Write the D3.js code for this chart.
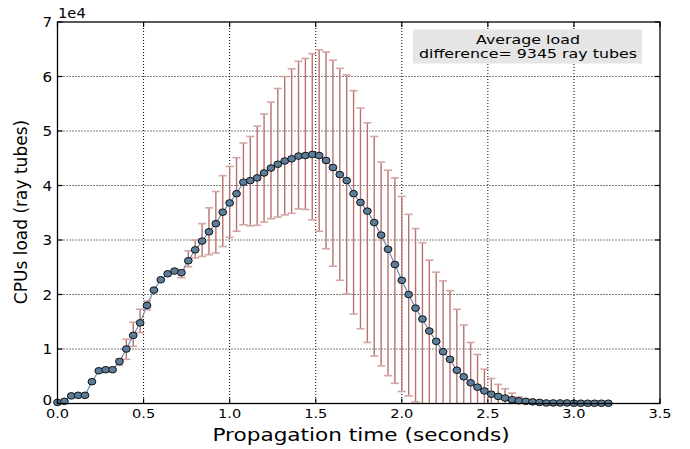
<!DOCTYPE html>
<html>
<head>
<meta charset="utf-8">
<script src="https://cdn.jsdelivr.net/npm/d3@7"></script>
<style>
  body { margin: 0; background: #fff; }
  text { font-family: "DejaVu Sans", sans-serif; }
</style>
</head>
<body>
<div id="chart"></div>
<script>
// data, in units of 1e4 ray tubes, one point every 0.04 s
const times = d3.range(81).map(i => +(i * 0.04).toFixed(2));
const load = [0.02, 0.04, 0.14, 0.15, 0.15, 0.40, 0.60, 0.62, 0.62, 0.77,
  1.00, 1.25, 1.48, 1.80, 2.08, 2.27, 2.38, 2.43, 2.40, 2.62,
  2.82, 2.98, 3.15, 3.30, 3.51, 3.68, 3.85, 4.06, 4.09, 4.14,
  4.23, 4.32, 4.39, 4.45, 4.49, 4.54, 4.55, 4.57, 4.55, 4.46,
  4.33, 4.20, 4.09, 3.85, 3.69, 3.53, 3.32, 3.09, 2.83, 2.55,
  2.26, 2.00, 1.75, 1.55, 1.33, 1.14, 0.95, 0.81, 0.61, 0.49,
  0.38, 0.30, 0.23, 0.17, 0.13, 0.10, 0.07, 0.05, 0.04, 0.03,
  0.02, 0.01, 0.01, 0.01, 0.01, 0.005, 0.005, 0.005, 0.005, 0.005, 0.005];
const upper = [null, null, null, null, null, null, null, null, null, 0.82,
  1.18, 1.49, 1.73, 1.88, null, null, null, null, 2.45, 2.80,
  3.00, 3.30, 3.59, 3.89, 4.18, 4.35, 4.51, 4.78, 4.90, 5.09,
  5.31, 5.53, 5.78, 6.00, 6.14, 6.28, 6.33, 6.42, 6.49, 6.45,
  6.30, 6.15, 6.03, 5.74, 5.42, 5.15, 4.90, 4.43, 4.28, 4.14,
  3.80, 3.47, 3.21, 2.95, 2.63, 2.41, 2.25, 2.07, 1.73, 1.44,
  1.12, 0.90, 0.63, 0.46, 0.35, 0.27, 0.19, 0.12, 0.07, 0.05,
  null, null, null, null, null, null, null, null, null, null, null];
const lower = [null, null, null, null, null, null, null, null, null, 0.70,
  0.81, 1.05, 1.30, 1.72, null, null, null, null, 2.31, 2.51,
  2.67, 2.70, 2.73, 2.76, 2.88, 3.05, 3.16, 3.28, 3.26, 3.27,
  3.33, 3.39, 3.42, 3.46, 3.49, 3.57, 3.56, 3.37, 3.16, 2.84,
  2.52, 2.26, 2.01, 1.64, 1.37, 1.12, 0.87, 0.69, 0.51, 0.37,
  0.22, 0.14, 0.03, 0, 0, 0, 0, 0, 0, 0,
  0, 0, 0, 0, 0, 0, 0, 0, 0, 0,
  null, null, null, null, null, null, null, null, null, null, null];
const xTicks = [0, 0.5, 1.0, 1.5, 2.0, 2.5, 3.0, 3.5];
const yTicks = [0, 1, 2, 3, 4, 5, 6, 7];
const noteLines = ["Average load", "difference= 9345 ray tubes"];

const data = times.map((t, i) => ({t: t, v: load[i] * 1e4,
  hi: upper[i] == null ? null : upper[i] * 1e4,
  lo: lower[i] == null ? null : lower[i] * 1e4}));

const W = 690, H = 449;
const svg = d3.select("#chart").append("svg")
    .attr("width", W)
    .attr("height", H);

const x = d3.scaleLinear().domain([0, 3.5]).range([57.5, 660]);
const y = d3.scaleLinear().domain([0, 70000]).range([403.5, 22]);

// grid
svg.append("g").selectAll("line.gx")
    .data(xTicks.slice(1, -1))
    .join("line")
    .attr("x1", d => x(d)).attr("x2", d => x(d))
    .attr("y1", y(70000)).attr("y2", y(0))
    .attr("stroke", "#000").attr("stroke-width", 1)
    .attr("stroke-dasharray", "1,2");
svg.append("g").selectAll("line.gy")
    .data(yTicks.slice(1, -1))
    .join("line")
    .attr("x1", x(0)).attr("x2", x(3.5))
    .attr("y1", d => y(d * 1e4)).attr("y2", d => y(d * 1e4))
    .attr("stroke", "#000").attr("stroke-width", 1)
    .attr("stroke-dasharray", "1,2");

// error bars
const eb = data.filter(d => d.hi != null);
svg.append("g").selectAll("line")
    .data(eb)
    .join("line")
    .attr("x1", d => x(d.t)).attr("x2", d => x(d.t))
    .attr("y1", d => y(d.lo)).attr("y2", d => y(d.hi))
    .attr("stroke", "#b5726e").attr("stroke-width", 1.4);
const caps = eb.flatMap(d => [d.hi, d.lo].filter(v => v > 0).map(v => ({t: d.t, v: v})));
svg.append("g").selectAll("line")
    .data(caps)
    .join("line")
    .attr("x1", d => x(d.t) - 4).attr("x2", d => x(d.t) + 4)
    .attr("y1", d => y(d.v)).attr("y2", d => y(d.v))
    .attr("stroke", "#d4a5a2").attr("stroke-width", 1.6);

// line and markers
svg.append("path")
    .datum(data)
    .attr("fill", "none")
    .attr("stroke", "#6b8fb3")
    .attr("stroke-width", 1.2)
    .attr("d", d3.line().x(d => x(d.t)).y(d => y(d.v)));
svg.append("g").selectAll("ellipse")
    .data(data)
    .join("ellipse")
    .attr("cx", d => x(d.t))
    .attr("cy", d => y(d.v))
    .attr("rx", 3.9).attr("ry", 3.3)
    .attr("fill", "#5b7d99")
    .attr("stroke", "#111").attr("stroke-width", 1);

// frame and inward ticks
svg.append("rect")
    .attr("x", x(0)).attr("y", y(70000))
    .attr("width", x(3.5) - x(0)).attr("height", y(0) - y(70000))
    .attr("fill", "none").attr("stroke", "#000").attr("stroke-width", 1.3);
const tk = svg.append("g").attr("stroke", "#000").attr("stroke-width", 1.2);
xTicks.forEach(t => {
  tk.append("line").attr("x1", x(t)).attr("x2", x(t)).attr("y1", y(0)).attr("y2", y(0) - 5);
  tk.append("line").attr("x1", x(t)).attr("x2", x(t)).attr("y1", y(70000)).attr("y2", y(70000) + 5);
});
yTicks.forEach(t => {
  tk.append("line").attr("x1", x(0)).attr("x2", x(0) + 5).attr("y1", y(t * 1e4)).attr("y2", y(t * 1e4));
  tk.append("line").attr("x1", x(3.5)).attr("x2", x(3.5) - 5).attr("y1", y(t * 1e4)).attr("y2", y(t * 1e4));
});

// tick labels (the source image is a bit stretched sideways)
svg.append("g").selectAll("text")
    .data(xTicks)
    .join("text")
    .attr("transform", d => `translate(${x(d)},418) scale(1.12,1)`)
    .attr("text-anchor", "middle")
    .attr("font-size", "13px")
    .text(d => d.toFixed(1));
svg.append("g").selectAll("text")
    .data(yTicks)
    .join("text")
    .attr("transform", d => `translate(52,${y(d * 1e4) + (d == 0 ? 1 : 5)}) scale(1.08,1)`)
    .attr("text-anchor", "end")
    .attr("font-size", "14px")
    .text(d => d);
svg.append("text")
    .attr("transform", "translate(58,18) scale(1.05,1)")
    .attr("font-size", "14px")
    .text("1e4");

// axis titles
svg.append("text")
    .attr("transform", "translate(361,441) scale(1.2,1)")
    .attr("text-anchor", "middle")
    .attr("font-size", "18px")
    .text("Propagation time (seconds)");
svg.append("text")
    .attr("transform", "translate(27, 212) rotate(-90)")
    .attr("text-anchor", "middle")
    .attr("font-size", "17px")
    .text("CPUs load (ray tubes)");

// note box
svg.append("rect")
    .attr("x", 413).attr("y", 29.5)
    .attr("width", 229).attr("height", 34)
    .attr("fill", "#e5e5e5");
svg.append("g").selectAll("text")
    .data(noteLines)
    .join("text")
    .attr("transform", (d, i) => `translate(528,${43.5 + i * 14}) scale(1.32,1)`)
    .attr("text-anchor", "middle")
    .attr("font-size", "12px")
    .text(d => d);
</script>
</body>
</html>
